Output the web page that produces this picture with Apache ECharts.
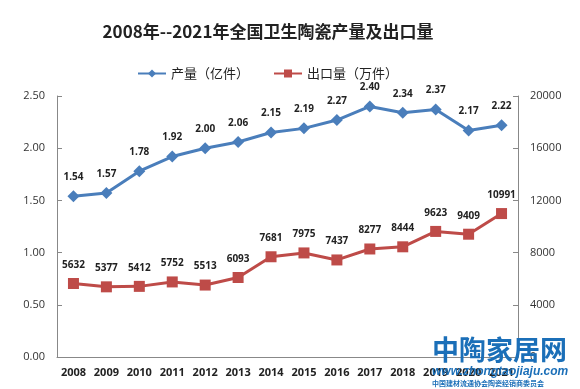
<!DOCTYPE html>
<html><head><meta charset="utf-8">
<script src="https://cdn.jsdelivr.net/npm/echarts@6/dist/echarts.min.js"></script>
<style>html,body{margin:0;padding:0;background:#fff}#c{width:580px;height:389px}</style>
</head><body><div id="c"></div>
<script>
var years = ['2008','2009','2010','2011','2012','2013','2014','2015','2016','2017','2018','2019','2020','2021'];
var production = [1.54,1.57,1.78,1.92,2.00,2.06,2.15,2.19,2.27,2.40,2.34,2.37,2.17,2.22];
var exports = [5632,5377,5412,5752,5513,6093,7681,7975,7437,8277,8444,9623,9409,10991];
var leftTicks = [0,0.5,1,1.5,2,2.5];
var rightTicks = [0,4000,8000,12000,16000,20000];

var chart = echarts.init(document.getElementById('c'));
var ff = '"Open Sans","Noto Sans CJK SC",sans-serif';
chart.setOption({
  animation:false,
  title:{text:'2008年--2021年全国卫生陶瓷产量及出口量',left:263,textAlign:'center',top:18,
    textStyle:{fontSize:17,fontWeight:'bold',color:'#222',fontFamily:'"Noto Sans CJK SC",sans-serif'}},
  legend:{top:62,left:132,itemGap:24,itemWidth:28,itemHeight:10,
    textStyle:{fontSize:13,color:'#222',fontFamily:'"Noto Sans CJK SC",sans-serif'},
    data:['产量（亿件）','出口量（万件）']},
  grid:{left:57,right:62,top:96,bottom:32},
  xAxis:{type:'category',data:years,boundaryGap:true,
    axisLine:{lineStyle:{color:'#888'}},
    axisTick:{inside:true,length:5,lineStyle:{color:'#888'}},
    axisLabel:{fontSize:11,fontWeight:'bold',color:'#222',margin:10,fontFamily:ff}},
  yAxis:[
    {type:'value',min:leftTicks[0],max:leftTicks[leftTicks.length-1],interval:0.5,
     axisLine:{show:true,lineStyle:{color:'#888'}},axisTick:{show:true,inside:true,length:5,lineStyle:{color:'#888'}},
     splitLine:{show:false},
     axisLabel:{fontSize:11,color:'#333',margin:12,fontFamily:ff,formatter:function(v){return v.toFixed(2);}}},
    {type:'value',min:rightTicks[0],max:rightTicks[rightTicks.length-1],interval:4000,position:'right',
     axisLine:{show:true,lineStyle:{color:'#888'}},axisTick:{show:true,inside:true,length:5,lineStyle:{color:'#888'}},
     splitLine:{show:false},
     axisLabel:{fontSize:11,color:'#333',margin:12,fontFamily:ff,formatter:function(v){return String(v);}}}
  ],
  series:[
    {name:'产量（亿件）',type:'line',data:production,yAxisIndex:0,symbol:'diamond',symbolSize:12,
     itemStyle:{color:'#4A7EBB'},lineStyle:{color:'#4A7EBB',width:3},
     label:{show:true,position:'top',distance:8,fontSize:10,fontWeight:'bold',color:'#222',fontFamily:ff,
       formatter:function(p){return p.value.toFixed(2);}}},
    {name:'出口量（万件）',type:'line',data:exports,yAxisIndex:1,symbol:'rect',symbolSize:11,
     itemStyle:{color:'#BE4B48'},lineStyle:{color:'#BE4B48',width:3},
     label:{show:true,position:'top',distance:8,fontSize:10,fontWeight:'bold',color:'#222',fontFamily:ff}}
  ],
  graphic:[
    {type:'text',left:432,top:336,z:100,style:{text:'中陶家居网',fontSize:27,fontWeight:'bold',fill:'#1B6FB8',fontFamily:'"Noto Sans CJK SC",sans-serif'}},
    {type:'text',left:432,top:366,z:100,style:{text:'www.zhongtaojiaju.com',fontSize:12,fontStyle:'italic',fontWeight:'bold',fill:'#1B6FB8',fontFamily:'"Liberation Sans",sans-serif'}},
    {type:'text',left:432,top:380,z:100,style:{text:'中国建材流通协会陶瓷经销商委员会',fontSize:7,fontWeight:'bold',fill:'#1B6FB8',fontFamily:'"Noto Sans CJK SC",sans-serif'}}
  ]
});
</script></body></html>
